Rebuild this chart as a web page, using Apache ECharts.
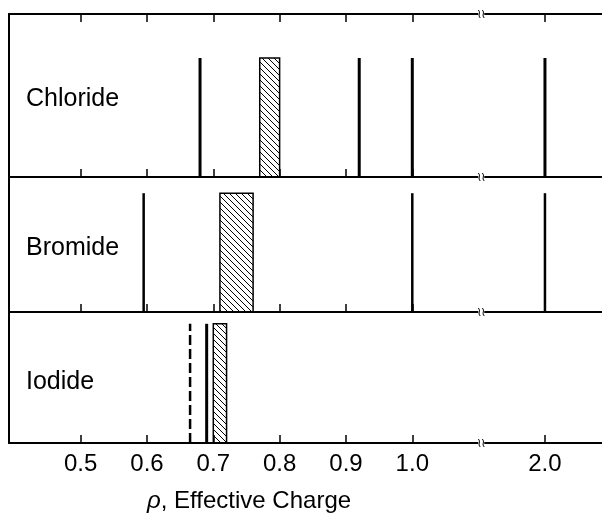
<!DOCTYPE html>
<html>
<head>
<meta charset="utf-8">
<script src="https://cdn.jsdelivr.net/npm/echarts@6/dist/echarts.min.js"></script>
<style>
  html, body { margin: 0; padding: 0; background: #fff; }
  #chart { width: 602px; height: 513px; }
</style>
</head>
<body>
<div id="chart"></div>
<script>
/* ---------- data (effective charge values) ---------- */
const panels = ['Chloride', 'Bromide', 'Iodide']
const chlorideLines = [0.68, 0.92, 1.0, 2.0]
const chlorideBoxes = [[0.77, 0.80]]
const bromideLines = [0.595, 1.0, 2.0]
const bromideBoxes = [[0.71, 0.76]]
const iodideLines = [0.69]
const iodideDashed = [0.665]
const iodideBoxes = [[0.70, 0.72]]
const markHeights = [0.73, 0.88, 0.91]
const tickValues = [0.5, 0.6, 0.7, 0.8, 0.9, 1.0, 2.0]
const breakAt = 1.52

/* axis is broken between 1.0 and 2.0: compress that part */
function toAxis(v) { return v <= 1 ? v : 1 + (v - 1) * 0.2 }
function fromAxis(v) { return v <= 1.0001 ? v : 1 + (v - 1) / 0.2 }

const FONT = '"Liberation Sans", Arial, Helvetica, sans-serif'

/* hatch pattern for the boxes */
const hatch = document.createElement('canvas')
hatch.width = 6
hatch.height = 6
const hctx = hatch.getContext('2d')
hctx.strokeStyle = '#000'
hctx.lineWidth = 1
hctx.beginPath()
hctx.moveTo(0, 0); hctx.lineTo(6, 6)
hctx.moveTo(-1, 5); hctx.lineTo(1, 7)
hctx.moveTo(5, -1); hctx.lineTo(7, 1)
hctx.stroke()

const grids = [
  { left: 9, right: 0, top: 14, height: 163 },
  { left: 9, right: 0, top: 177, height: 135 },
  { left: 9, right: 0, top: 312, height: 131 }
]

const xMin = 0.392
const xMax = 1.286
const ticks = tickValues.map(toAxis)

function bottomAxis(i, showLabel) {
  return {
    type: 'value', gridIndex: i, position: 'bottom',
    min: xMin, max: xMax,
    axisLine: { show: true, lineStyle: { color: '#000', width: 2 } },
    axisTick: { show: true, inside: true, length: 8, customValues: ticks, lineStyle: { color: '#000', width: 1.5 } },
    axisLabel: {
      show: showLabel, customValues: ticks, margin: 9,
      color: '#000', fontSize: 24, fontFamily: FONT,
      formatter: (v) => fromAxis(v).toFixed(1)
    },
    splitLine: { show: false }
  }
}

const xAxes = [bottomAxis(0, false), bottomAxis(1, false), bottomAxis(2, true)]
// top border of the first panel, ticks pointing down
xAxes.push({
  type: 'value', gridIndex: 0, position: 'top',
  min: xMin, max: xMax,
  axisLine: { show: true, lineStyle: { color: '#000', width: 2 } },
  axisTick: { show: true, inside: true, length: 8, customValues: ticks, lineStyle: { color: '#000', width: 1.5 } },
  axisLabel: { show: false },
  splitLine: { show: false }
})

const yAxes = grids.map((g, i) => ({
  type: 'value', gridIndex: i, min: 0, max: 1,
  axisLine: { show: true, lineStyle: { color: '#000', width: 2 } },
  axisTick: { show: false }, axisLabel: { show: false }, splitLine: { show: false }
}))

function lineSeries(i, values, width, dash) {
  const h = markHeights[i]
  return {
    type: 'custom', xAxisIndex: i, yAxisIndex: i, silent: true,
    data: values.map((v) => [toAxis(v)]),
    renderItem: (params, api) => {
      const p0 = api.coord([api.value(0), 0])
      const p1 = api.coord([api.value(0), h])
      return {
        type: 'line',
        shape: { x1: p0[0], y1: p0[1], x2: p1[0], y2: p1[1] },
        style: { stroke: '#000', lineWidth: width, lineDash: dash || null }
      }
    }
  }
}

function boxSeries(i, boxes) {
  const h = markHeights[i]
  return {
    type: 'custom', xAxisIndex: i, yAxisIndex: i, silent: true,
    data: boxes.map((b) => [toAxis(b[0]), toAxis(b[1])]),
    renderItem: (params, api) => {
      const p0 = api.coord([api.value(0), 0])
      const p1 = api.coord([api.value(1), h])
      return {
        type: 'rect',
        shape: { x: p0[0], y: p1[1], width: p1[0] - p0[0], height: p0[1] - p1[1] },
        style: { fill: { image: hatch, repeat: 'repeat' }, stroke: '#000', lineWidth: 1.5 }
      }
    }
  }
}

/* small squiggle marking the axis break on each horizontal rule */
function breakSeries(i, yVals) {
  return {
    type: 'custom', xAxisIndex: i, yAxisIndex: i, silent: true, clip: false,
    data: yVals.map((y) => [toAxis(breakAt), y]),
    renderItem: (params, api) => {
      const p = api.coord([api.value(0), api.value(1)])
      const children = [{
        type: 'rect', shape: { x: p[0] - 3, y: p[1] - 2, width: 6, height: 4 },
        style: { fill: '#fff' }
      }]
      ;[-2, 2].forEach((dx) => {
        const x = p[0] + dx
        children.push({
          type: 'bezierCurve',
          shape: { x1: x - 1, y1: p[1] - 4, cpx1: x + 2, cpy1: p[1] - 1, cpx2: x - 2, cpy2: p[1] + 1, x2: x + 1, y2: p[1] + 4 },
          style: { stroke: '#000', lineWidth: 1, fill: null }
        })
      })
      return { type: 'group', children }
    }
  }
}

const series = [
  lineSeries(0, chlorideLines, 3),
  boxSeries(0, chlorideBoxes),
  lineSeries(1, bromideLines, 2.5),
  boxSeries(1, bromideBoxes),
  lineSeries(2, iodideLines, 3),
  lineSeries(2, iodideDashed, 2.5, [10, 4]),
  boxSeries(2, iodideBoxes),
  breakSeries(0, [1, 0]),
  breakSeries(1, [0]),
  breakSeries(2, [0])
]

const labelY = [99, 248, 382]
const graphic = panels.map((name, i) => ({
  type: 'text', left: 26, top: labelY[i] - 12,
  style: { text: name, fontSize: 25, fontFamily: FONT, fill: '#000' }
}))

const chart = echarts.init(document.getElementById('chart'), null, { renderer: 'canvas' })
chart.setOption({
  animation: false,
  backgroundColor: '#fff',
  title: {
    text: '{i|ρ}, Effective Charge',
    left: 142, top: 484,
    textStyle: {
      fontSize: 24, fontWeight: 'normal', color: '#000', fontFamily: FONT,
      rich: { i: { fontStyle: 'italic', fontSize: 24, color: '#000', fontFamily: FONT } }
    }
  },
  grid: grids,
  xAxis: xAxes,
  yAxis: yAxes,
  series,
  graphic
})
</script>
</body>
</html>
